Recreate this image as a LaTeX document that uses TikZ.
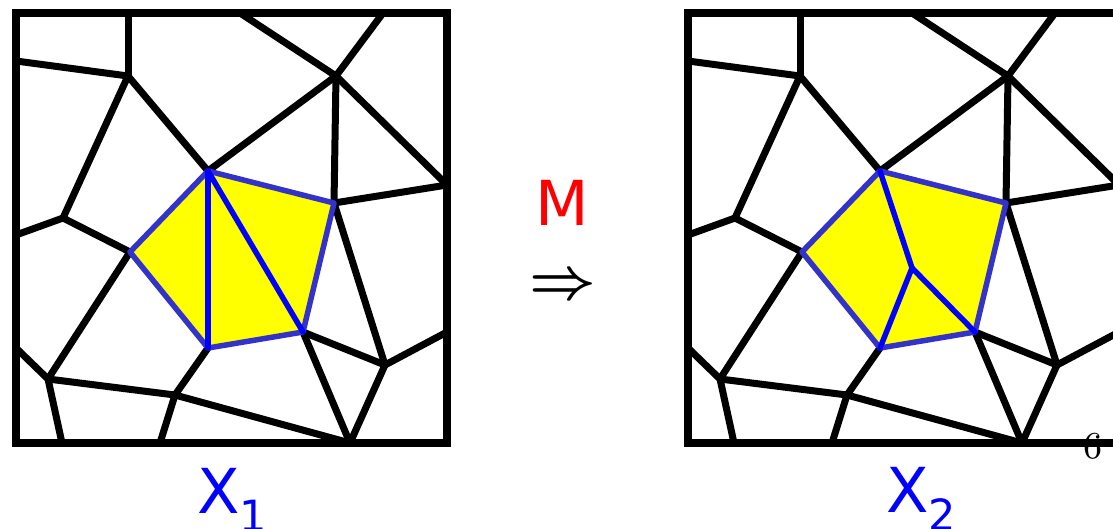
\documentclass[tikz,border=0pt]{standalone}
\usepackage{fontspec}
\newfontfamily\lblfont{DejaVu Sans}
\definecolor{fillyel}{RGB}{255,255,0}
\definecolor{edgeblue}{RGB}{51,51,204}
\definecolor{innerblue}{RGB}{0,0,255}
\tikzset{
  frame/.style={line width=8.5pt, draw=black},
  edge/.style={line width=7pt, draw=black, line cap=round},
  outerblue/.style={line width=5.5pt, draw=edgeblue, line join=round, line cap=round},
  innerb/.style={line width=5.5pt, draw=innerblue, line cap=round},
  lbl/.style={inner sep=0pt, font=\lblfont\fontsize{62}{62}\selectfont},
}
\newcommand\meshpoints[1]{%
  \coordinate (#1c1) at (16,13);
  \coordinate (#1c2) at (447,13);
  \coordinate (#1c3) at (447,443);
  \coordinate (#1c4) at (16,443);
  \coordinate (#1T1) at (128,13);
  \coordinate (#1T2) at (240,13);
  \coordinate (#1T3) at (383,13);
  \coordinate (#1L1) at (16,61);
  \coordinate (#1L2) at (16,235);
  \coordinate (#1L3) at (16,348);
  \coordinate (#1B1) at (62,443);
  \coordinate (#1B2) at (160,443);
  \coordinate (#1H) at (350,443);
  \coordinate (#1R1) at (447,185);
  \coordinate (#1R2) at (447,332);
  \coordinate (#1A) at (128,76);
  \coordinate (#1B) at (208,171);
  \coordinate (#1C) at (63,218);
  \coordinate (#1D) at (130,252);
  \coordinate (#1E) at (48,379);
  \coordinate (#1F) at (175,395);
  \coordinate (#1G) at (208,348);
  \coordinate (#1I) at (303,332);
  \coordinate (#1J) at (385,365);
  \coordinate (#1K) at (334,203);
  \coordinate (#1L) at (336,76);
}
\newcommand\meshedges[1]{%
  \fill[fillyel] (#1B) -- (#1K) -- (#1I) -- (#1G) -- (#1D) -- cycle;
  \draw[edge] (#1T1) -- (#1A);
  \draw[edge] (#1L1) -- (#1A);
  \draw[edge] (#1A) -- (#1B);
  \draw[edge] (#1A) -- (#1C);
  \draw[edge] (#1C) -- (#1L2);
  \draw[edge] (#1C) -- (#1D);
  \draw[edge] (#1D) -- (#1E);
  \draw[edge] (#1E) -- (#1L3);
  \draw[edge] (#1E) -- (#1B1);
  \draw[edge] (#1E) -- (#1F);
  \draw[edge] (#1F) -- (#1B2);
  \draw[edge] (#1F) -- (#1G);
  \draw[edge] (#1F) -- (#1H);
  \draw[edge] (#1H) -- (#1I);
  \draw[edge] (#1H) -- (#1J);
  \draw[edge] (#1I) -- (#1J);
  \draw[edge] (#1J) -- (#1R2);
  \draw[edge] (#1J) -- (#1K);
  \draw[edge] (#1K) -- (#1R1);
  \draw[edge] (#1K) -- (#1L);
  \draw[edge] (#1L) -- (#1T2);
  \draw[edge] (#1L) -- (#1T3);
  \draw[edge] (#1L) -- (#1R1);
  \draw[edge] (#1L) -- (#1B);
  \draw[outerblue] (#1B) -- (#1K) -- (#1I) -- (#1G) -- (#1D) -- cycle;
}
\begin{document}
\begin{tikzpicture}[x=1pt,y=-1pt]
\useasboundingbox (0,0) rectangle (1113,528);
\clip (0,0) rectangle (1113,528);
% left mesh
\meshpoints{l}
\meshedges{l}
\draw[innerb] (lB) -- (lG);
\draw[innerb] (lB) -- (lI);
\draw[frame] (lc1) rectangle (lc3);
% right mesh
\node[inner sep=0pt] (pg) at (1093,446) {\scalebox{3.8}{6}};
\begin{scope}[shift={(672pt,0)}]
\meshpoints{r}
\meshedges{r}
\coordinate (rN) at (240,268);
\draw[innerb] (rB) -- (rN);
\draw[innerb] (rN) -- (rG);
\draw[innerb] (rN) -- (rI);
\draw[frame] (rc1) rectangle (rc3);
\end{scope}
% labels
\node[lbl, text=red, anchor=base] (m) at (562,225) {M};
\node[inner sep=0pt] (arr) at (563,287) {\scalebox{5.8}{\boldmath$\Rightarrow$}};
\node[lbl, text=blue, anchor=base west] (x1) at (197,513) {X\raisebox{-18pt}{\fontsize{43}{43}\selectfont 1}};
\node[lbl, text=blue, anchor=base west] (x2) at (886,512) {X\raisebox{-18pt}{\fontsize{43}{43}\selectfont 2}};
\end{tikzpicture}
\end{document}
